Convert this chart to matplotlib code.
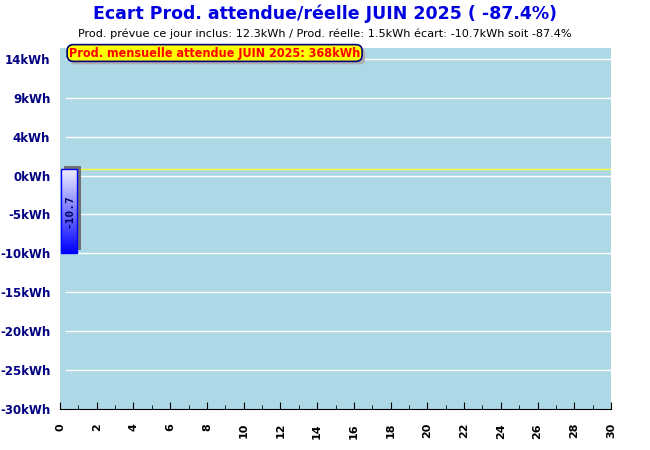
import matplotlib.pyplot as plt
import numpy as np
from matplotlib import transforms
from matplotlib.patches import FancyBboxPatch

# data
days = [1]
ecart = [-10.7]
title = 'Ecart Prod. attendue/réelle JUIN 2025 ( -87.4%)'
subtitle = 'Prod. prévue ce jour inclus: 12.3kWh / Prod. réelle: 1.5kWh écart: -10.7kWh soit -87.4%'
note = 'Prod. mensuelle attendue JUIN 2025: 368kWh'
y_ticks = [14.2, 9.2, 4.2, -0.8, -5.8, -10.8, -15.8, -20.8, -25.8, -30.8]
y_labels = ['14kWh', '9kWh', '4kWh', '0kWh', '-5kWh', '-10kWh', '-15kWh', '-20kWh', '-25kWh', '-30kWh']
x_ticks = list(range(0, 31, 2))

fig = plt.figure(figsize=(6.5, 4.5), dpi=100)
ax = fig.add_axes([60 / 650, 41 / 450, 551 / 650, 361 / 450])
ax.set_facecolor('#add8e6')

for s in ['left', 'right', 'top']:
    ax.spines[s].set_visible(False)
ax.spines['bottom'].set_color('black')

ax.set_yticks(y_ticks, y_labels)
ax.set_yticks(np.arange(14.2, -31, -1), minor=True)
ax.tick_params(axis='y', which='major', length=0, pad=7, labelcolor='#000080', labelsize=8.5)
ax.tick_params(axis='y', which='minor', direction='in', length=5, color='#add8e6', width=1)
for t in ax.get_yticklabels():
    t.set_fontweight('bold')
ax.set_xticks(x_ticks, [str(v) for v in x_ticks])
ax.set_xticks(range(0, 31), minor=True)
ax.tick_params(axis='x', which='major', direction='in', length=5, labelsize=8, labelrotation=90, pad=10)
ax.tick_params(axis='x', which='minor', direction='in', length=3)
for t in ax.get_xticklabels():
    t.set_fontweight('bold')

# grid lines
for yv in y_ticks[:-1]:
    ax.plot([0.3, 30], [yv, yv], color='white', lw=1, zorder=1)
ax.axhline(0, color='#ffff40', lw=1, zorder=1)

# bars with shadow and gradient
cmap = plt.matplotlib.colors.LinearSegmentedColormap.from_list('g', ['#f0f0ff', '#0000ff'])
for d, v in zip(days, ecart):
    x0 = d - 1 + 0.05
    w = 0.88
    shadow = transforms.offset_copy(ax.transData, fig=fig, x=3.5, y=3, units='dots')
    ax.bar(x0, v, width=w, align='edge', color='#707070', zorder=2, transform=shadow)
    grad = np.linspace(0, 1, 256).reshape(-1, 1)
    ax.imshow(grad, extent=[x0, x0 + w, v, 0], cmap=cmap, aspect='auto', zorder=3, origin='upper')
    ax.bar(x0, v, width=w, align='edge', fill=False, edgecolor='#0000ff', lw=1, zorder=4)
    ax.text(x0 + w / 2, v / 2, '%.1f' % v, rotation=90, ha='center', va='center',
            color='#000060', fontsize=8, fontweight='bold', family='DejaVu Sans Mono', zorder=5)
ax.set_xlim(0, 30)
ax.set_ylim(-30.8, 15.6)

fig.text(0.5, 1 - 14 / 450, title, ha='center', va='center', color='#0000e0',
         fontsize=12.5, fontweight='bold')
fig.text(0.5, 1 - 34 / 450, subtitle, ha='center', va='center', color='black', fontsize=8.1)

# note box with shadow
note_txt = fig.text(69 / 650, 1 - 53 / 450, note, color='#ff0000', ha='left', va='center',
                    fontsize=9, fontweight='bold', fontstretch='condensed', zorder=5,
                    bbox=dict(boxstyle='round,pad=0.15,rounding_size=0.5', fc='#ffff00',
                              ec='#000080', lw=1.2))
fig.canvas.draw()
bb = note_txt.get_bbox_patch().get_window_extent()
fig.patches.append(FancyBboxPatch((bb.x0 + 3, bb.y0 - 3), bb.width, bb.height,
                                  boxstyle='round,pad=0,rounding_size=5', fc='#b0b0b0', ec='none',
                                  transform=None, figure=fig, zorder=4))

fig.savefig('out.png', dpi=100)
